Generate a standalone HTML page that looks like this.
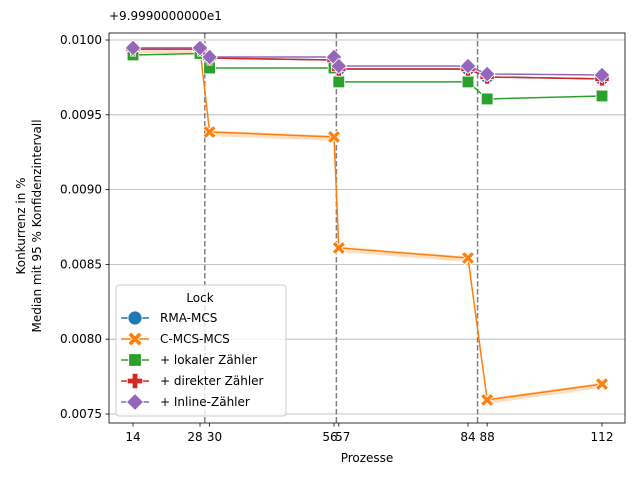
<!DOCTYPE html>
<html><head><meta charset="utf-8"><style>
body{margin:0;background:#fff}
svg{font-family:"DejaVu Sans","Liberation Sans",sans-serif}
</style></head><body>
<svg id="chart" width="640" height="480">
<rect x="0" y="0" width="640" height="480" fill="#fff"/>
<g id="grid"></g><g id="vlines"></g><g id="series"></g>
<rect x="109" y="33" width="516" height="390" fill="none" stroke="#000" stroke-width="0.8"/>
<g id="axes"></g>
<text x="109" y="20" font-size="12">+9.9990000000e1</text>
<text x="367" y="462" font-size="12" text-anchor="middle">Prozesse</text>
<text transform="translate(25,226) rotate(-90)" font-size="12" text-anchor="middle"><tspan x="0" dy="0">Konkurrenz in %</tspan><tspan x="0" dy="16">Median mit 95 % Konfidenzintervall</tspan></text>
<g id="legend"></g>
</svg>
<script>
const xTicks=[14,28,30,56,57,84,88,112];
const yTicks=[0.0075,0.0080,0.0085,0.0090,0.0095,0.0100];
const yTickLabels=["0.0075","0.0080","0.0085","0.0090","0.0095","0.0100"];
const separators=[29,56.5,86];
const seriesNames=["RMA-MCS","C-MCS-MCS","+ lokaler Zähler","+ direkter Zähler","+ Inline-Zähler"];
const rmaValues=[0.00994,0.00994,0.00988,0.009866,0.009806,0.009806,0.009753,0.00974];
const cmcsValues=[0.00994,0.00994,0.009385,0.009352,0.00861,0.008543,0.007594,0.0077];
const lokalValues=[0.0099,0.00991,0.009813,0.009813,0.00972,0.00972,0.009606,0.009626];
const direktValues=[0.00994,0.00994,0.00988,0.009866,0.009806,0.009806,0.009753,0.00974];
const inlineValues=[0.009947,0.009947,0.009886,0.009886,0.009826,0.009826,0.009773,0.009766];
const colors=["#1f77b4","#ff7f0e","#2ca02c","#d62728","#9467bd"];
const markers=["circle","x","square","plus","diamond"];
const NS="http://www.w3.org/2000/svg";
const X=v=>133+(v-14)*(469/98);
const Y=v=>414-(v-0.0075)/0.0005*74.8;
function mk(tag,attrs,parent){const e=document.createElementNS(NS,tag);for(const k in attrs)e.setAttribute(k,attrs[k]);parent.appendChild(e);return e;}
const grid=document.getElementById('grid'),axes=document.getElementById('axes');
yTicks.forEach((t,i)=>{
 const g=mk('line',{x1:109,x2:625,y1:Y(t),y2:Y(t),stroke:'#b0b0b0','stroke-width':0.8},grid);
 
 
 mk('line',{x1:105.5,x2:109,y1:Y(t),y2:Y(t),stroke:'#000','stroke-width':0.8},axes);
 const tx=mk('text',{x:102,y:Y(t)+4,'font-size':12,'text-anchor':'end'},axes);tx.textContent=yTickLabels[i];
 
 
});
xTicks.forEach(t=>{
 mk('line',{x1:X(t),x2:X(t),y1:423,y2:426.5,stroke:'#000','stroke-width':0.8},axes);
 let dx=0; if(t===56)dx=-4; if(t===57)dx=4; if(t===28)dx=-5; if(t===30)dx=5;
 const tx=mk('text',{x:X(t)+dx,y:441,'font-size':12,'text-anchor':'middle'},axes);tx.textContent=t;
 
 
});
const vl=document.getElementById('vlines');
separators.forEach(s=>{
 const l=mk('line',{x1:X(s),x2:X(s),y1:33,y2:423,stroke:'#7f7f7f','stroke-width':1.5,'stroke-dasharray':'5.5,2.5'},vl);
 
 
});
function marker(type,x,y,c,p,s){
 s=s||1;
 if(type==='circle')return mk('circle',{cx:x,cy:y,r:5*s,fill:c,stroke:'#fff','stroke-width':0.8},p);
 if(type==='square')return mk('rect',{x:x-4.5*s,y:y-4.5*s,width:9*s,height:9*s,fill:c,stroke:'#fff','stroke-width':0.8},p);
 if(type==='diamond'){const d=6*s;return mk('polygon',{points:`${x},${y-d} ${x+d},${y} ${x},${y+d} ${x-d},${y}`,fill:c,stroke:'#fff','stroke-width':0.8},p);}
 if(type==='plus'){const a=5.5*s,b=2*s;return mk('polygon',{points:`${x-b},${y-a} ${x+b},${y-a} ${x+b},${y-b} ${x+a},${y-b} ${x+a},${y+b} ${x+b},${y+b} ${x+b},${y+a} ${x-b},${y+a} ${x-b},${y+b} ${x-a},${y+b} ${x-a},${y-b} ${x-b},${y-b}`,fill:c,stroke:'#fff','stroke-width':0.8},p);}
 const a=5*s,b=1.6*s;
 return mk('path',{d:`M${x-a},${y-a+b*1.4}L${x-a+b*1.4},${y-a}L${x},${y-b*1.4}L${x+a-b*1.4},${y-a}L${x+a},${y-a+b*1.4}L${x+b*1.4},${y}L${x+a},${y+a-b*1.4}L${x+a-b*1.4},${y+a}L${x},${y+b*1.4}L${x-a+b*1.4},${y+a}L${x-a},${y+a-b*1.4}L${x-b*1.4},${y}Z`,fill:c,stroke:'#fff','stroke-width':0.8},p);
}
const allSeries=[rmaValues,cmcsValues,lokalValues,direktValues,inlineValues];
const sg=document.getElementById('series');
const band=cmcsValues.map((v,i)=>[X(xTicks[i]),Y(v)]);
const bp=mk('polygon',{points:band.map(p=>p[0]+','+(p[1]-1.5)).concat(band.slice().reverse().map(p=>p[0]+','+(p[1]+4))).join(' '),fill:'#ff7f0e',opacity:0.25},sg);


allSeries.forEach((vals,si)=>{
 const g=mk('g',{},sg);
 
 
 mk('polyline',{points:vals.map((v,i)=>X(xTicks[i])+','+Y(v)).join(' '),fill:'none',stroke:colors[si],'stroke-width':1.5},g);
 vals.forEach((v,i)=>{const m=marker(markers[si],X(xTicks[i]),Y(v),colors[si],g,1.3);
  
  });
});
const lg=document.getElementById('legend');
const box=mk('rect',{x:116,y:285,width:170,height:131,rx:3,fill:'#fff','fill-opacity':0.8,stroke:'#ccc'},lg);


const lt=mk('text',{x:200,y:302,'font-size':12,'text-anchor':'middle'},lg);lt.textContent='Lock';
seriesNames.forEach((n,i)=>{
 const y=318+i*21;
 const g=mk('g',{},lg);
 
 
 mk('line',{x1:121,x2:149,y1:y,y2:y,stroke:colors[i],'stroke-width':1.5},g);
 marker(markers[i],135,y,colors[i],g,1.4);
 const t=mk('text',{x:160,y:y+4,'font-size':12},g);t.textContent=n;
});
</script>
</body></html>
